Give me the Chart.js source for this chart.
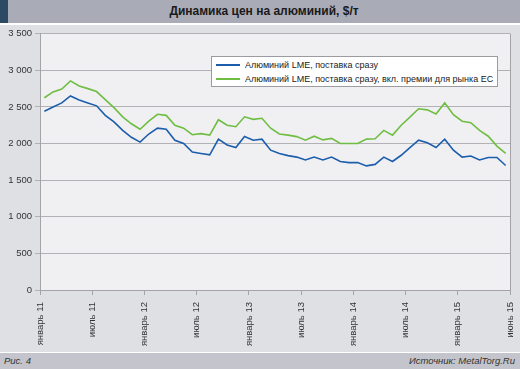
<!DOCTYPE html>
<html lang="ru">
<head>
<meta charset="UTF-8">
<title>Динамика цен на алюминий</title>
<script src="https://cdn.jsdelivr.net/npm/chart.js"></script>
<style>
  body { margin: 0; width: 520px; height: 369px; background: #fff; font-family: "Liberation Sans", Arial, sans-serif; position: relative; overflow: hidden; }
  #titleBar { position: absolute; left: 0; top: 0; width: 520px; height: 23px; background: #a9abb6; }
  #titleBar .mark { position: absolute; left: 0; top: 0; width: 8px; height: 23px; background: #2c4a64; }
  #titleBar .text { position: absolute; left: 8px; right: 0; top: 0; line-height: 23px; text-align: center; font-weight: bold; font-size: 12px; color: #1a1a1a; }
  #plotWrap { position: absolute; left: 0; top: 25px; width: 520px; height: 327px; background: #dfe0e4; }
  #footer { position: absolute; left: 0; top: 353px; width: 520px; height: 16px; background: #c4c5cc; font-style: italic; font-size: 9.5px; color: #333; line-height: 16px; }
  #footer .l { position: absolute; left: 4px; }
  #footer .r { position: absolute; right: 5px; }
  #legend { position: absolute; left: 211px; top: 56px; width: 285px; height: 29px; background: #fff; border: 1px solid #9c9ca0; font-size: 9px; color: #222; }
  #legend .row { position: absolute; left: 4px; height: 14px; line-height: 14px; white-space: nowrap; }
  #legend .sw { display: inline-block; width: 24px; height: 2px; vertical-align: middle; margin-right: 5px; position: relative; top: -1px; }
</style>
</head>
<body>
<div id="titleBar"><div class="mark"></div><div class="text">Динамика цен на алюминий, $/т</div></div>
<div id="plotWrap"><canvas id="chart" width="520" height="327"></canvas></div>
<div id="legend"></div>
<div id="footer"><span class="l">Рис. 4</span><span class="r">Источник: MetalTorg.Ru</span></div>

<script>
// monthly averages, январь 2011 - июнь 2015
const lmeCash = [
  2440, 2500, 2555, 2650, 2595, 2555, 2515, 2385, 2295, 2180, 2085, 2020,
  2130, 2210, 2195, 2045, 2000, 1885, 1865, 1845, 2060, 1980, 1945, 2095,
  2045, 2060, 1910, 1865, 1835, 1815, 1775, 1815, 1775, 1815, 1755, 1740,
  1740, 1695, 1715, 1815, 1755, 1840, 1945, 2045, 2010, 1945, 2060, 1910,
  1815, 1830, 1775, 1810, 1810, 1700
];
const lmeEU = [
  2625, 2705, 2745, 2855, 2785, 2750, 2710, 2600, 2490, 2365, 2270, 2195,
  2305, 2400, 2385, 2250, 2210, 2120, 2135, 2115, 2325, 2250, 2230, 2365,
  2330, 2345, 2210, 2130, 2115, 2095, 2045, 2100, 2050, 2070, 2000, 2000,
  2000, 2060, 2065, 2180, 2115, 2250, 2360, 2475, 2460, 2405, 2555, 2395,
  2305, 2285, 2180, 2100, 1965, 1865
];
const seriesNames = [
  'Алюминий LME, поставка сразу',
  'Алюминий LME, поставка сразу, вкл. премии для рынка ЕС'
];
const seriesColors = ['#1c5dac', '#6fbe43'];
const tickMonths = [0, 6, 12, 18, 24, 30, 36, 42, 48, 54];
const tickLabels = ['январь 11', 'июль 11', 'январь 12', 'июль 12', 'январь 13',
  'июль 13', 'январь 14', 'июль 14', 'январь 15', 'июнь 15'];
const yMax = 3500, yStep = 500;

// points sit in the middle of each month
const toPoints = arr => arr.map((v, i) => ({ x: i + 0.5, y: v }));

// legend
const legend = document.getElementById('legend');
seriesNames.forEach((name, i) => {
  const row = document.createElement('div');
  row.className = 'row';
  row.style.top = (i === 0 ? 1 : 15) + 'px';
  row.innerHTML = '<span class="sw" style="background:' + seriesColors[i] + '"></span>' + name;
  legend.appendChild(row);
});

const plotBg = {
  id: 'plotBg',
  beforeDraw(chart) {
    const a = chart.chartArea, ctx = chart.ctx;
    ctx.save();
    ctx.fillStyle = '#f0f0f2';
    ctx.fillRect(a.left, a.top, a.right - a.left, a.bottom - a.top);
    ctx.restore();
  },
  afterDraw(chart) {
    const a = chart.chartArea, ctx = chart.ctx;
    ctx.save();
    ctx.strokeStyle = '#a4a4a8';
    ctx.lineWidth = 1;
    ctx.beginPath();
    ctx.moveTo(Math.round(a.right) + 0.5, a.top);
    ctx.lineTo(Math.round(a.right) + 0.5, a.bottom);
    ctx.stroke();
    ctx.restore();
  }
};

const tickFont = { family: '"Liberation Sans", Arial, sans-serif', size: 9.5 };

new Chart(document.getElementById('chart'), {
  type: 'line',
  data: {
    datasets: [
      { label: seriesNames[0], data: toPoints(lmeCash), borderColor: seriesColors[0], borderWidth: 1.6, pointRadius: 0, tension: 0 },
      { label: seriesNames[1], data: toPoints(lmeEU), borderColor: seriesColors[1], borderWidth: 1.6, pointRadius: 0, tension: 0 }
    ]
  },
  options: {
    responsive: false,
    animation: false,
    devicePixelRatio: 1,
    layout: { padding: { top: 8, right: 10, left: 0, bottom: 0 } },
    plugins: { legend: { display: false }, tooltip: { enabled: false } },
    scales: {
      x: {
        type: 'linear',
        min: 0,
        max: 54,
        afterBuildTicks: s => { s.ticks = tickMonths.map(v => ({ value: v })); },
        afterFit: s => { s.height = 62; s.paddingLeft = 0; s.paddingRight = 0; },
        ticks: {
          autoSkip: false,
          minRotation: 90,
          maxRotation: 90,
          padding: 7,
          color: '#333',
          font: tickFont,
          callback: v => tickLabels[tickMonths.indexOf(v)]
        },
        grid: { drawOnChartArea: false, tickLength: 5, color: '#a4a4a8' },
        border: { color: '#a4a4a8' }
      },
      y: {
        min: 0,
        max: yMax,
        afterFit: s => { s.width = 40; },
        ticks: {
          stepSize: yStep,
          padding: 3,
          color: '#333',
          font: tickFont,
          callback: v => String(v).replace(/\B(?=(\d{3})+(?!\d))/g, ' ')
        },
        grid: { color: '#b2b2b6', tickLength: 5 },
        border: { color: '#a4a4a8' }
      }
    }
  },
  plugins: [plotBg]
});
</script>
</body>
</html>
